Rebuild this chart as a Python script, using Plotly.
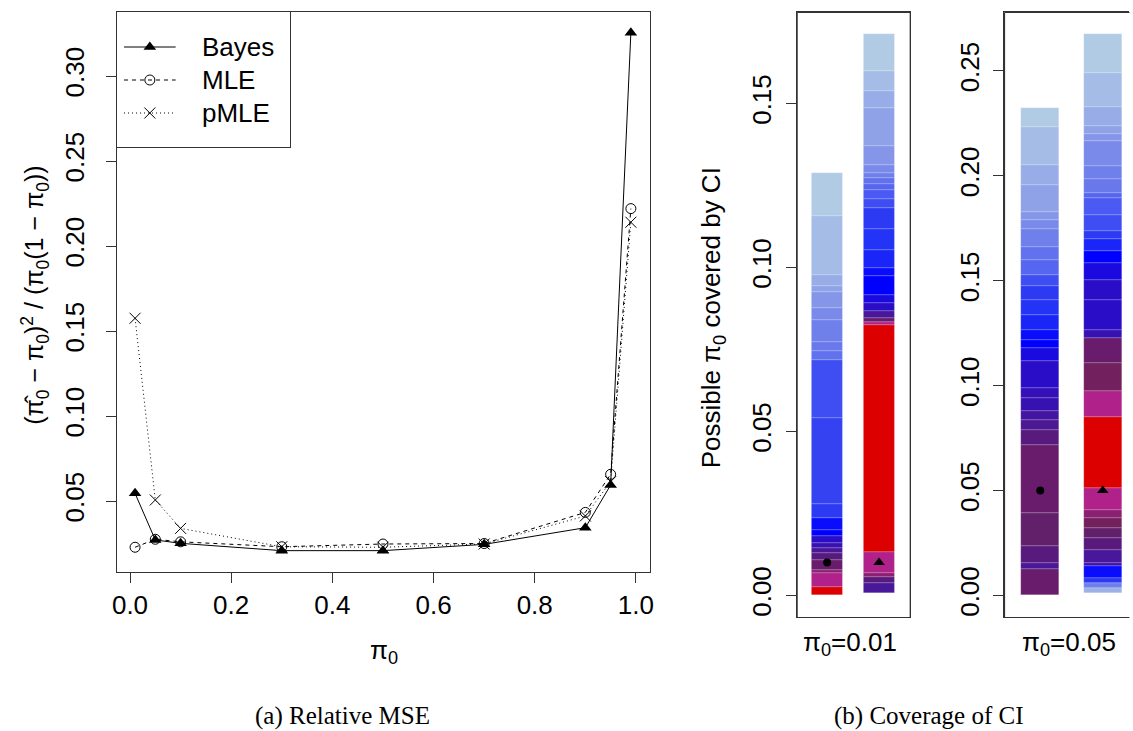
import numpy as np
import plotly.graph_objects as go

W, H = 1133, 731

# ---------------- (a) relative MSE ----------------
pi0 = [0.01, 0.05, 0.10, 0.30, 0.50, 0.70, 0.90, 0.95, 0.99]
mse_bayes = [0.0545, 0.0271, 0.0251, 0.0208, 0.0208, 0.0245, 0.0343, 0.0594, 0.3255]
mse_mle = [0.0228, 0.0275, 0.0260, 0.0231, 0.0247, 0.0250, 0.0433, 0.0657, 0.2220]
mse_pmle = [0.1575, 0.0506, 0.0339, 0.0231, 0.0228, 0.0247, 0.0412, 0.0614, 0.2140]
series_names = ["Bayes", "MLE", "pMLE"]

# ---------------- (b) coverage of CI ----------------
# Each column is a stack of intervals of possible pi0 values (edges, bottom to top)
# shaded by how often the interval covers them (0 = rarely, 1 = always).
true_pi0 = [0.01, 0.05]
panel_labels = ["π<sub>0</sub>=0.01", "π<sub>0</sub>=0.05"]

mle_ci_001_edges = [0, 0.0026, 0.0068, 0.0078, 0.0109, 0.0129, 0.0145, 0.0160, 0.0180,
                    0.0200, 0.0236, 0.0280, 0.0542, 0.0719, 0.0744, 0.0774, 0.0841,
                    0.0877, 0.0924, 0.0944, 0.0977, 0.1158, 0.1289]
mle_ci_001_cover = [1.00, 0.90, 0.84, 0.74, 0.70, 0.66, 0.63, 0.60, 0.52, 0.50, 0.44,
                    0.42, 0.40, 0.32, 0.30, 0.28, 0.24, 0.20, 0.16, 0.12, 0.06, 0.00]

bayes_ci_001_edges = [0.0007, 0.0038, 0.0056, 0.0068, 0.0131, 0.0825, 0.0835, 0.0846,
                      0.0866, 0.0891, 0.0917, 0.0973, 0.0998, 0.1052, 0.1117, 0.1181,
                      0.1209, 0.1237, 0.1254, 0.1273, 0.1288, 0.1311, 0.1369, 0.1486,
                      0.1537, 0.1598, 0.1711]
bayes_ci_001_cover = [0.66, 0.70, 0.84, 0.90, 1.00, 0.90, 0.74, 0.66, 0.60, 0.56, 0.52,
                      0.50, 0.48, 0.46, 0.44, 0.40, 0.38, 0.35, 0.32, 0.28, 0.24, 0.20,
                      0.16, 0.12, 0.06, 0.00]

mle_ci_005_edges = [0, 0.0126, 0.0154, 0.0234, 0.0393, 0.0718, 0.0790, 0.0837, 0.0877,
                    0.0941, 0.0989, 0.1115, 0.1179, 0.1219, 0.1266, 0.1338, 0.1409,
                    0.1476, 0.1527, 0.1600, 0.1661, 0.1746, 0.1791, 0.1830, 0.1958,
                    0.2050, 0.2231, 0.2323]
mle_ci_005_cover = [0.74, 0.66, 0.70, 0.72, 0.74, 0.70, 0.67, 0.65, 0.63, 0.62, 0.60,
                    0.56, 0.52, 0.50, 0.48, 0.46, 0.44, 0.40, 0.35, 0.32, 0.28, 0.24,
                    0.20, 0.16, 0.12, 0.06, 0.00]

bayes_ci_005_edges = [0.0011, 0.0035, 0.0059, 0.0083, 0.0138, 0.0154, 0.0218, 0.0274,
                      0.0321, 0.0369, 0.0408, 0.0512, 0.0850, 0.0976, 0.1108, 0.1227,
                      0.1266, 0.1409, 0.1505, 0.1584, 0.1640, 0.1699, 0.1735, 0.1815,
                      0.1894, 0.1918, 0.1985, 0.2045, 0.2164, 0.2199, 0.2239, 0.2326,
                      0.2490, 0.2676]
bayes_ci_005_cover = [0.10, 0.28, 0.44, 0.50, 0.63, 0.66, 0.70, 0.72, 0.78, 0.84, 0.90,
                      1.00, 0.90, 0.78, 0.74, 0.63, 0.60, 0.60, 0.56, 0.52, 0.48, 0.44,
                      0.40, 0.38, 0.35, 0.30, 0.28, 0.24, 0.20, 0.16, 0.12, 0.06, 0.00]

# pale blue -> blue -> indigo -> purple -> magenta -> red
COVER_SCALE = [
    [0.00, "#b2cbe5"], [0.06, "#a5bce6"], [0.12, "#98ade8"], [0.16, "#8fa2e8"],
    [0.20, "#8596e8"], [0.24, "#7a8aea"], [0.28, "#7080ea"], [0.32, "#6272ee"],
    [0.35, "#5666f0"], [0.38, "#4a5af2"], [0.40, "#3e4ef2"], [0.42, "#3442f2"],
    [0.44, "#2c3af4"], [0.46, "#2434f6"], [0.48, "#1a26f8"], [0.50, "#0a0cfc"],
    [0.52, "#0000ff"], [0.56, "#1a0ae0"], [0.60, "#2a0dc6"], [0.63, "#3812b0"],
    [0.66, "#48179a"], [0.70, "#581a7c"], [0.72, "#62206a"], [0.74, "#6a1c6c"],
    [0.78, "#72205e"], [0.84, "#8a2070"], [0.90, "#b0228a"], [0.95, "#c61250"],
    [1.00, "#dd0000"],
]

FONT = "Liberation Sans, Arial, Helvetica, sans-serif"
SERIF = "Liberation Serif, Times New Roman, serif"
AX = "#333333"

STYLES = {
    "Bayes": dict(line=dict(color="black", width=1),
                  marker=dict(symbol="triangle-up", size=11, color="black")),
    "MLE": dict(line=dict(color="black", width=1, dash="4px,4px"),
                marker=dict(symbol="circle-open", size=10, color="black",
                            line=dict(width=1, color="black"))),
    "pMLE": dict(line=dict(color="black", width=1, dash="1px,3px"),
                 marker=dict(symbol="x-thin-open", size=11, color="black",
                             line=dict(width=1, color="black"))),
}

fig = go.Figure()

# --- panel (a) ---
for name, vals in zip(series_names, [mse_bayes, mse_mle, mse_pmle]):
    fig.add_trace(go.Scatter(x=pi0, y=vals, name=name, mode="lines+markers",
                             showlegend=False, xaxis="x", yaxis="y", **STYLES[name]))

# legend box drawn on its own small pixel-scaled axes (0..174 wide, 0..135 tall)
LEG_W, LEG_H = 174, 135
for i, name in enumerate(series_names):
    row = 35 + 33 * i
    st = STYLES[name]
    fig.add_trace(go.Scatter(x=[7, 59], y=[row, row], mode="lines", line=st["line"],
                             showlegend=False, hoverinfo="skip", xaxis="x4", yaxis="y4"))
    fig.add_trace(go.Scatter(x=[33], y=[row], mode="markers", marker=st["marker"],
                             showlegend=False, hoverinfo="skip", xaxis="x4", yaxis="y4"))
    fig.add_annotation(xref="x4", yref="y4", x=84, y=row, text=name, showarrow=False,
                       xanchor="left", yanchor="middle",
                       font=dict(family=FONT, size=26, color="black"))


def add_stack(edges, cover, xpos, xa, ya):
    edges = np.asarray(edges, dtype=float)
    fig.add_trace(go.Bar(
        x=[xpos] * (len(edges) - 1), base=edges[:-1], y=np.diff(edges),
        width=0.6, showlegend=False, hoverinfo="skip",
        marker=dict(color=cover, colorscale=COVER_SCALE, cmin=0, cmax=1,
                    line=dict(width=0.5, color="rgba(255,255,255,0.3)")),
        xaxis=xa, yaxis=ya))


add_stack(mle_ci_001_edges, mle_ci_001_cover, 1, "x2", "y2")
add_stack(bayes_ci_001_edges, bayes_ci_001_cover, 2, "x2", "y2")
add_stack(mle_ci_005_edges, mle_ci_005_cover, 1, "x3", "y3")
add_stack(bayes_ci_005_edges, bayes_ci_005_cover, 2, "x3", "y3")

for xa, ya, tv in [("x2", "y2", true_pi0[0]), ("x3", "y3", true_pi0[1])]:
    fig.add_trace(go.Scatter(x=[1], y=[tv], mode="markers", showlegend=False,
                             marker=dict(symbol="circle", size=8, color="black"),
                             xaxis=xa, yaxis=ya))
    fig.add_trace(go.Scatter(x=[2], y=[tv], mode="markers", showlegend=False,
                             marker=dict(symbol="triangle-up", size=10, color="black"),
                             xaxis=xa, yaxis=ya))


def px(v):
    return v / W


def py(v):
    return 1 - v / H


tickfont = dict(family=FONT, size=26, color="black")
axis_common = dict(showline=True, linecolor=AX, linewidth=1, ticks="outside",
                   ticklen=10, tickcolor=AX, tickwidth=1, showgrid=False,
                   zeroline=False, tickfont=tickfont, fixedrange=True)
no_ticks = {**axis_common, "ticks": "", "showticklabels": False}

# coverage panels: frame edges in pixels
P1_L, P1_R, P2_L, PB_T, PB_B = 798, 912, 1007, 12, 617

fig.update_layout(
    width=W, height=H, margin=dict(l=0, r=0, t=0, b=0),
    paper_bgcolor="white", plot_bgcolor="white",
    barmode="overlay", bargap=0, showlegend=False,
    font=dict(family=FONT, size=26, color="black"),
    xaxis=dict(domain=[px(113), px(650)], range=[-0.0255, 1.0275], mirror=True,
               tickvals=[0, 0.2, 0.4, 0.6, 0.8, 1.0], tickformat=".1f",
               anchor="y", **axis_common),
    yaxis=dict(domain=[py(572), py(12)], range=[0.00824, 0.33765], mirror=True,
               tickvals=[0.05, 0.10, 0.15, 0.20, 0.25, 0.30], tickformat=".2f",
               tickangle=-90, ticklabelstandoff=12, anchor="x", **axis_common),
    xaxis2=dict(domain=[px(P1_L), px(P1_R)], range=[0.4133, 2.590], mirror=True,
                anchor="y2", **no_ticks),
    yaxis2=dict(domain=[py(PB_B), py(PB_T)], range=[-0.00659, 0.17787], mirror=True,
                tickvals=[0, 0.05, 0.10, 0.15], tickformat=".2f", tickangle=-90,
                ticklabelstandoff=4, anchor="x2", **axis_common),
    xaxis3=dict(domain=[px(P2_L), 1.0], range=[0.4209, 2.419], mirror=True,
                anchor="y3", **no_ticks),
    yaxis3=dict(domain=[py(PB_B), py(PB_T)], range=[-0.0103, 0.2781],
                tickvals=[0, 0.05, 0.10, 0.15, 0.20, 0.25], tickformat=".2f",
                tickangle=-90, ticklabelstandoff=4, anchor="x3", **axis_common),
    xaxis4=dict(domain=[px(113), px(113 + LEG_W)], range=[0, LEG_W], mirror=True,
                anchor="y4", **no_ticks),
    yaxis4=dict(domain=[py(12 + LEG_H), py(12)], range=[LEG_H, 0], mirror=True,
                anchor="x4", **no_ticks),
)

# frames around the coverage panels (the second one runs off the right edge)
frame = dict(color="#333333", width=1.2)
for x0, x1, y0, y1 in [(P1_L, P1_L, PB_T, PB_B), (P1_R, P1_R, PB_T, PB_B),
                       (P1_L, P1_R, PB_T, PB_T), (P1_L, P1_R, PB_B, PB_B),
                       (P2_L, P2_L, PB_T, PB_B), (P2_L, W, PB_T, PB_T),
                       (P2_L, W, PB_B, PB_B)]:
    fig.add_shape(type="line", xref="paper", yref="paper",
                  x0=px(x0 + 0.5), x1=px(x1 + 0.5), y0=py(y0 + 0.5), y1=py(y1 + 0.5),
                  line=frame, layer="above")

annotations = [
    dict(text="(π\u0302<sub>0</sub> − π<sub>0</sub>)<sup>2</sup> / (π<sub>0</sub>(1 − π<sub>0</sub>))",
         x=px(30), y=py(295), textangle=-90, font=dict(family=FONT, size=25)),
    dict(text="π<sub>0</sub>", x=px(382), y=py(651), font=dict(family=FONT, size=26)),
    dict(text="Possible π<sub>0</sub> covered by CI", x=px(713), y=py(318),
         textangle=-90, font=dict(family=FONT, size=26)),
    dict(text=panel_labels[0], x=px(852), y=py(643), font=dict(family=FONT, size=26)),
    dict(text=panel_labels[1], x=px(1073), y=py(643), font=dict(family=FONT, size=26)),
    dict(text="(a) Relative MSE", x=px(340), y=py(716), font=dict(family=SERIF, size=25)),
    dict(text="(b) Coverage of CI", x=px(931), y=py(716), font=dict(family=SERIF, size=25)),
]
for a in annotations:
    fig.add_annotation(xref="paper", yref="paper", showarrow=False,
                       xanchor="center", yanchor="middle", **a)

fig.write_html("out.html")
